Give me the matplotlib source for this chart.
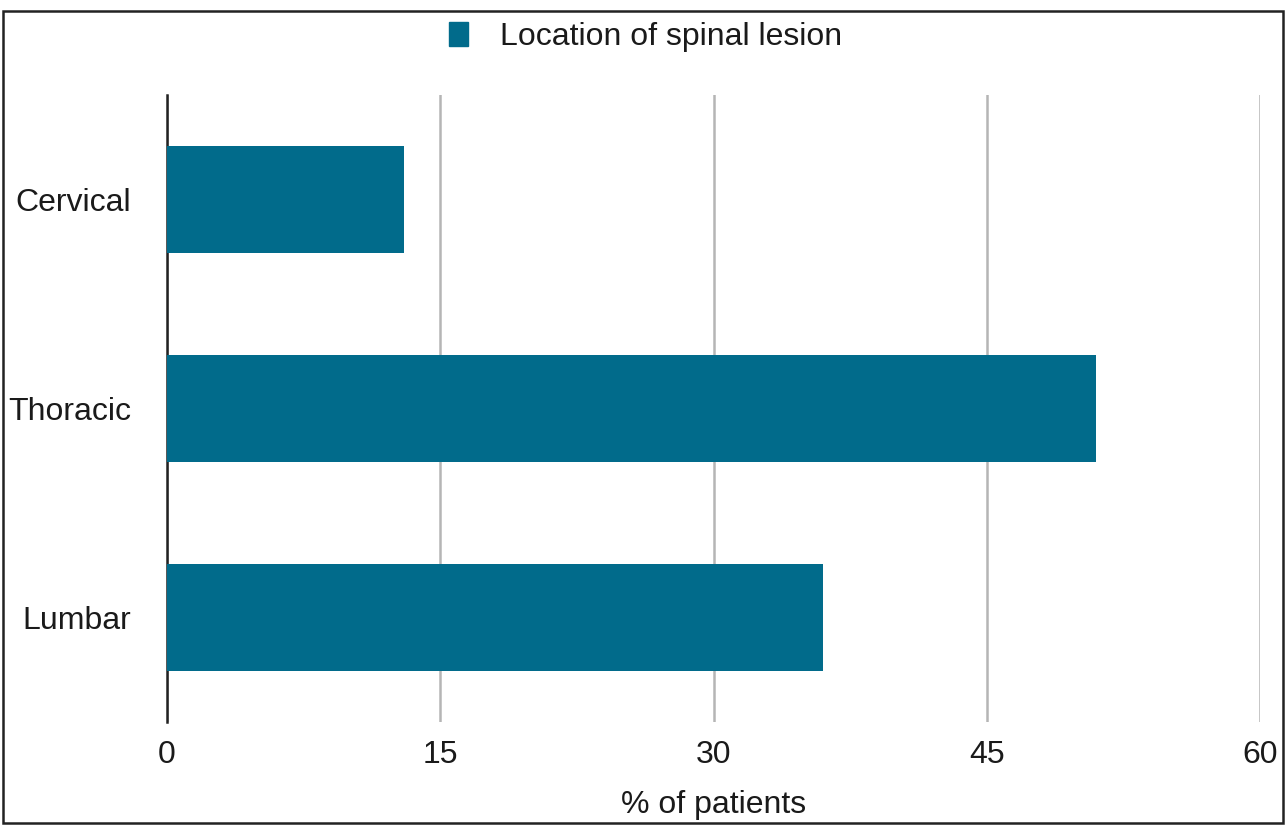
import matplotlib.pyplot as plt
from matplotlib.patches import Rectangle, Patch

plt.rcParams['font.family'] = ['Liberation Sans', 'DejaVu Sans']

locations = ["Cervical", "Thoracic", "Lumbar"]
percent = [13, 51, 36]
xticks = [0, 15, 30, 45, 60]

bar_color = "#016b8b"
text_color = "#1a1a1a"

fig = plt.figure(figsize=(12.86, 8.25), dpi=100)
ax = fig.add_axes([0.1299, 0.125, 0.85, 0.7598])

ax.barh(range(len(locations)), percent, height=0.51, color=bar_color, zorder=3)

ax.set_xlim(0, 60)
ax.set_ylim(2.5, -0.5)
ax.set_xticks(xticks)
ax.set_xticklabels([str(t) for t in xticks])
ax.set_yticks(range(len(locations)))
ax.set_yticklabels(locations)
ax.tick_params(axis='both', length=0, labelsize=23, colors=text_color)
ax.tick_params(axis='x', pad=13)
ax.tick_params(axis='y', pad=26)

for s in ["top", "right", "bottom"]:
    ax.spines[s].set_visible(False)
ax.spines["left"].set_linewidth(1.8)
ax.spines["left"].set_color("#222222")

ax.grid(axis='x', color="#b5b5b5", linewidth=1.8, zorder=0)
ax.set_axisbelow(True)

ax.set_xlabel("% of patients", fontsize=23, color=text_color)
ax.xaxis.label.set_va('center')
ax.xaxis.set_label_coords(0.5, -0.132)

fig.legend(handles=[Patch(color=bar_color, label="Location of spinal lesion")],
           loc="center", bbox_to_anchor=(0.502, 0.955), frameon=False,
           fontsize=23, handlelength=0.6, handleheight=0.75, handletextpad=1.0,
           labelcolor=text_color)

# outer frame around the figure
fig.patches.append(Rectangle((0.0025, 0.003), 0.995, 0.984, transform=fig.transFigure,
                             fill=False, edgecolor="#222222", linewidth=1.8))

fig.savefig("out.png", dpi=100)
